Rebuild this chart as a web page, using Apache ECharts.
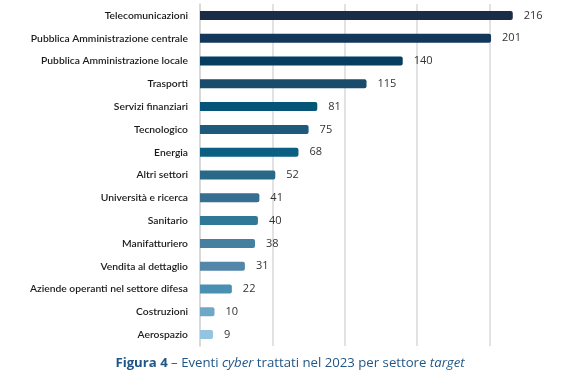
<!DOCTYPE html>
<html><head><meta charset="utf-8">
<script src="https://cdn.jsdelivr.net/npm/echarts@6/dist/echarts.min.js"></script>
<style>html,body{margin:0;padding:0;background:#fff}#c{width:580px;height:380px}</style>
</head><body><div id="c"></div>
<script>
var categories = ['Telecomunicazioni','Pubblica Amministrazione centrale','Pubblica Amministrazione locale','Trasporti','Servizi finanziari','Tecnologico','Energia','Altri settori','Università e ricerca','Sanitario','Manifatturiero','Vendita al dettaglio','Aziende operanti nel settore difesa','Costruzioni','Aerospazio'];
var values = [216,201,140,115,81,75,68,52,41,40,38,31,22,10,9];
var barColors = ['#1a2c46','#12375a','#053e61','#1a4b6b','#065579','#1e5a7b','#0b6082','#2a6888','#376f91','#2f7898','#47809f','#5386a8','#4a90b2','#6fa8c7','#94c4e0'];
var tickValues = [0,50,100,150,200];

var chart = echarts.init(document.getElementById('c'));
chart.setOption({
  animation:false,
  title:{
    text:'{b|Figura 4} – Eventi {i|cyber} trattati nel 2023 per settore {i|target}',
    left:'center', top:352,
    textStyle:{fontFamily:'Open Sans',fontSize:13.2,color:'#1f5687',fontWeight:'normal',
      rich:{b:{fontFamily:'Open Sans',fontSize:13.2,fontWeight:'bold',color:'#1f5687'},
            i:{fontFamily:'Open Sans',fontSize:13.2,fontStyle:'italic',color:'#1f5687'}}}
  },
  grid:{left:200,right:18,top:4,bottom:34,containLabel:false},
  xAxis:{type:'value',min:0,max:250,interval:50,
    axisLabel:{show:false},axisLine:{show:false},axisTick:{show:false},
    splitLine:{show:true,showMaxLine:false,showMinLine:false,lineStyle:{color:'#d9d9d9',width:1.5}}},
  yAxis:{type:'category',data:categories,inverse:true,
    axisLine:{show:true,lineStyle:{color:'#cccccc',width:1.5}},axisTick:{show:false},
    axisLabel:{margin:12,fontFamily:'Lato',fontSize:10.3,fontWeight:600,color:'#1a1a1a'}},
  series:[{type:'bar',data:values.map(function(v,i){return {value:v,itemStyle:{color:barColors[i]}};}),
    barWidth:9,itemStyle:{borderRadius:[0,2,2,0]},
    label:{show:true,position:'right',distance:11,fontFamily:'Open Sans',fontSize:11,color:'#333'}}]
});
</script></body></html>
